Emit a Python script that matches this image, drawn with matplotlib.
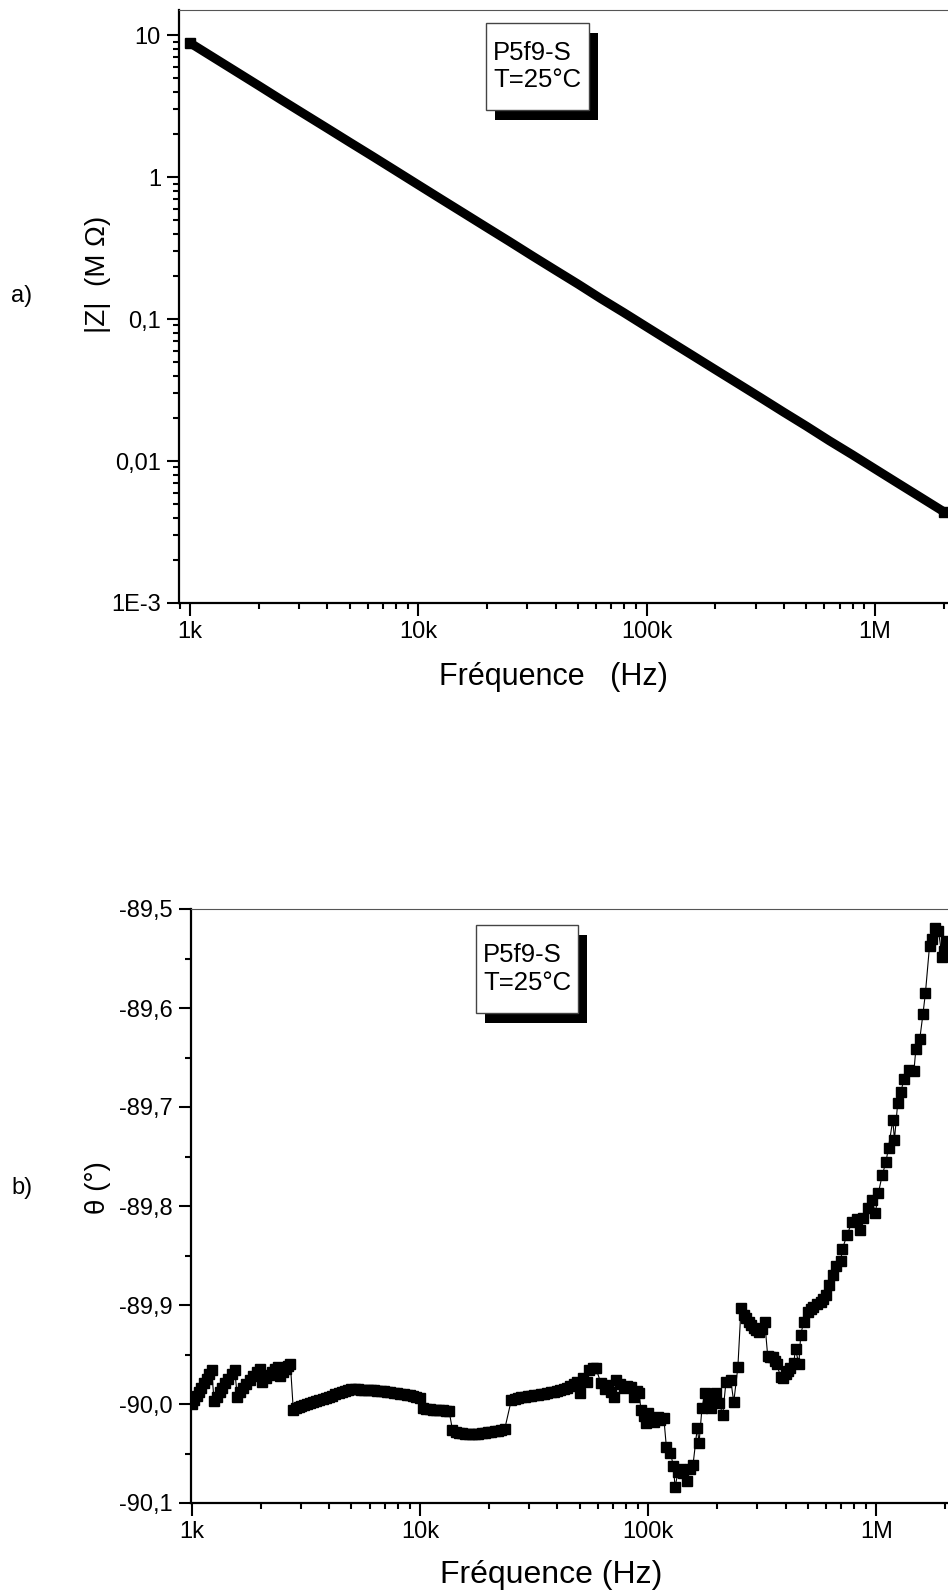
import numpy as np
import matplotlib
matplotlib.use("Agg")
import matplotlib.pyplot as plt
from matplotlib.patches import Rectangle
from matplotlib.ticker import LogLocator, MultipleLocator, NullFormatter

plt.rcParams['font.family'] = ['Liberation Sans', 'DejaVu Sans']

# --- a) module |Z| (MOhm) vs frequence ---
z_freq = [1000, 1250, 1580, 2000, 2500, 3160, 4000, 5000, 6300, 7940,
          10000, 12600, 15800, 20000, 25100, 31600, 39800, 50100, 63100, 79400,
          100000, 126000, 158000, 200000, 251000, 316000, 398000, 501000, 631000, 794000,
          1000000, 1260000, 1580000, 2000000]
z_mod = [8.80, 7.04, 5.57, 4.40, 3.51, 2.78, 2.20, 1.76, 1.40, 1.11,
         0.880, 0.698, 0.557, 0.440, 0.351, 0.278, 0.221, 0.176, 0.139, 0.111,
         0.0880, 0.0698, 0.0557, 0.0440, 0.0351, 0.0279, 0.0221, 0.0176, 0.0139, 0.0111,
         0.00880, 0.00698, 0.00557, 0.00440]

# --- b) phase theta (deg) vs frequence ---
th_freq = [1000, 1025, 1050, 1075, 1100, 1130, 1160, 1190, 1220,
           1250, 1285, 1320, 1360, 1400, 1440, 1490, 1540,
           1580, 1630, 1680, 1730, 1790, 1850, 1920, 1980,
           2030, 2100, 2170, 2240, 2310, 2380,
           2430, 2500, 2570, 2640, 2700,
           2780, 2850, 2930, 3010, 3100, 3200, 3300, 3400, 3500, 3620,
           3740, 3860, 3980, 4110, 4250, 4390, 4530, 4680, 4840, 5000,
           5170, 5340, 5520, 5700, 5890, 6090, 6290, 6500, 6720, 6940,
           7170, 7410, 7660, 7920, 8180, 8460, 8740, 9030, 9330, 9640, 9960,
           10300, 10650, 11000, 11370, 11750, 12140, 12550, 12970, 13400,
           13850, 14300, 14800, 15300, 15800, 16300, 16900, 17400, 18000,
           18600, 19200, 19900, 20500, 21200, 21900, 22700, 23500,
           25100, 26000, 26800, 27700, 28700, 29600, 30600, 31700, 32700,
           33800, 35000, 36100, 37300, 38600, 39900, 41200, 42600, 44100,
           45500, 47100, 48600,
           50200, 52000, 54000, 55000, 57000, 59000, 62000, 64500, 66800,
           69000, 71000, 72000, 75000, 78600, 81000, 84000, 87000, 89000,
           91000, 93000, 96000, 98000, 100000, 103000, 106000, 110000, 113000,
           117000, 120000, 125000, 129000, 131000, 135000, 138000, 142000, 148000,
           152000, 157000, 164000, 167000, 172000, 177000, 182000, 188000, 192000,
           195000, 198000, 205000, 212000, 219000, 230000, 237000, 247000, 255000,
           262000, 269000, 276000, 283000, 290000, 298000, 306000, 315000, 324000,
           334000, 342000, 351000, 358000, 366000, 381000, 390000, 401000, 409000,
           417000, 434000, 442000, 457000, 466000, 480000, 500000, 515000, 530000,
           550000, 570000, 585000, 600000, 618000, 643000, 663000, 697000, 710000,
           745000, 781000, 822000, 848000, 873000, 922000, 954000, 990000, 1020000,
           1060000, 1100000, 1130000, 1180000, 1200000, 1240000, 1280000, 1320000, 1390000,
           1460000, 1490000, 1550000, 1600000, 1640000, 1710000, 1750000, 1800000, 1870000,
           1940000, 1980000, 2020000]
th_deg = [-90.000, -89.996, -89.992, -89.988, -89.984, -89.979, -89.975, -89.970, -89.966,
          -89.997, -89.993, -89.988, -89.984, -89.979, -89.975, -89.970, -89.966,
          -89.993, -89.988, -89.984, -89.980, -89.976, -89.972, -89.968, -89.965,
          -89.978, -89.974, -89.971, -89.968, -89.965, -89.963,
          -89.972, -89.968, -89.965, -89.962, -89.960,
          -90.006, -90.004, -90.003, -90.002, -90.001, -90.000, -89.999, -89.998, -89.997, -89.996,
          -89.995, -89.994, -89.993, -89.992, -89.990, -89.989, -89.988, -89.987, -89.986, -89.985,
          -89.985, -89.985, -89.986, -89.986, -89.986, -89.986, -89.986, -89.987, -89.987, -89.987,
          -89.988, -89.988, -89.989, -89.989, -89.990, -89.990, -89.991, -89.991, -89.992, -89.993, -89.994,
          -90.004, -90.005, -90.005, -90.006, -90.006, -90.006, -90.006, -90.007, -90.007,
          -90.026, -90.028, -90.029, -90.029, -90.030, -90.030, -90.030, -90.030, -90.030,
          -90.029, -90.029, -90.028, -90.028, -90.027, -90.027, -90.026, -90.025,
          -89.996, -89.995, -89.994, -89.993, -89.993, -89.992, -89.992, -89.991, -89.991,
          -89.990, -89.990, -89.989, -89.988, -89.988, -89.987, -89.986, -89.985, -89.984,
          -89.982, -89.980, -89.978,
          -89.989, -89.974, -89.978, -89.966, -89.964, -89.964, -89.979, -89.985, -89.981,
          -89.988, -89.993, -89.976, -89.980, -89.984, -89.982, -89.983, -89.993, -89.987,
          -89.989, -90.006, -90.012, -90.019, -90.009, -90.015, -90.018, -90.013, -90.016,
          -90.014, -90.043, -90.049, -90.063, -90.084, -90.069, -90.066, -90.070, -90.078,
          -90.066, -90.062, -90.024, -90.039, -90.004, -89.989, -89.995, -90.004, -89.992,
          -89.996, -89.989, -89.999, -90.011, -89.978, -89.976, -89.998, -89.963, -89.903,
          -89.910, -89.913, -89.917, -89.920, -89.923, -89.925, -89.927, -89.924, -89.917,
          -89.952, -89.953, -89.953, -89.957, -89.960, -89.973, -89.974, -89.970, -89.967,
          -89.964, -89.959, -89.944, -89.960, -89.930, -89.917, -89.907, -89.904, -89.902,
          -89.899, -89.897, -89.894, -89.890, -89.880, -89.870, -89.861, -89.856, -89.843,
          -89.829, -89.816, -89.813, -89.824, -89.812, -89.802, -89.794, -89.807, -89.787,
          -89.769, -89.756, -89.741, -89.713, -89.733, -89.696, -89.685, -89.672, -89.663,
          -89.664, -89.641, -89.631, -89.606, -89.585, -89.537, -89.530, -89.519, -89.522,
          -89.548, -89.542, -89.532]

x_ticks = [1e3, 1e4, 1e5, 1e6]
x_labels = ["1k", "10k", "100k", "1M"]
za_ticks = [1e-3, 1e-2, 1e-1, 1, 10]
za_labels = ["1E-3", "0,01", "0,1", "1", "10"]
th_ticks = [-90.1, -90.0, -89.9, -89.8, -89.7, -89.6, -89.5]
th_labels = ["-90,1", "-90,0", "-89,9", "-89,8", "-89,7", "-89,6", "-89,5"]
box_text = "P5f9-S\nT=25°C"

W, H = 948, 1591
fig = plt.figure(figsize=(W / 100, H / 100), dpi=100)


def px_axes(left, top, right, bottom):
    return fig.add_axes([left / W, 1 - bottom / H, (right - left) / W, (bottom - top) / H])


def style(ax):
    ax.spines['right'].set_visible(False)
    ax.spines['top'].set_linewidth(0.8)
    ax.spines['top'].set_color('#555555')
    for s in ('left', 'bottom'):
        ax.spines[s].set_linewidth(1.6)
    ax.tick_params(which='major', direction='out', length=9, width=1.5,
                   labelsize=17, pad=4, top=False, right=False)
    ax.tick_params(which='minor', direction='out', length=4.5, width=1.5,
                   top=False, right=False)


def label_box(left, top, right, bottom):
    w, h = (right - left) / W, (bottom - top) / H
    fig.add_artist(Rectangle(((left + 9) / W, 1 - (bottom + 10) / H), w, h,
                             transform=fig.transFigure, fc='black', ec='none'))
    fig.add_artist(Rectangle((left / W, 1 - bottom / H), w, h,
                             transform=fig.transFigure, fc='white', ec='#444444', lw=1))
    fig.text((left + 7) / W, 1 - (top + bottom) / 2 / H, box_text, fontsize=18.5,
             ha='left', va='center', linespacing=1.2)


# a) |Z| : points tres serres -> bande epaisse
ax1 = px_axes(179, 10, 948, 603)
ax1.plot(z_freq, z_mod, color='black', lw=6.5, solid_capstyle='butt',
         marker='s', ms=6.5, markevery=[0, len(z_freq) - 1], mec='black', mfc='black')
ax1.set_xscale('log')
ax1.set_yscale('log')
ax1.set_xlim(895, 2.09e6)
ax1.set_ylim(1e-3, 15.0)
ax1.set_xticks(x_ticks, x_labels)
ax1.set_yticks(za_ticks, za_labels)
ax1.xaxis.set_minor_locator(LogLocator(base=10, subs=np.arange(2, 10)))
ax1.yaxis.set_minor_locator(LogLocator(base=10, subs=np.arange(2, 10)))
ax1.xaxis.set_minor_formatter(NullFormatter())
ax1.yaxis.set_minor_formatter(NullFormatter())
style(ax1)

fig.text(553 / W, 1 - 677 / H, "Fréquence   (Hz)", fontsize=22, ha='center', va='center')
fig.text(98 / W, 1 - 274 / H, "|Z|  (M Ω)", fontsize=20, rotation=90, ha='center', va='center')
fig.text(22 / W, 1 - 296 / H, "a)", fontsize=17, ha='center', va='center')
label_box(486, 23, 589, 110)

# b) theta
ax2 = px_axes(191, 909, 948, 1503)
ax2.plot(th_freq, th_deg, color='black', lw=0.8, marker='s', ms=6.5,
         mec='black', mfc='black')
ax2.set_xscale('log')
ax2.set_xlim(990, 2.06e6)
ax2.set_ylim(-90.1, -89.5)
ax2.set_xticks(x_ticks, x_labels)
ax2.set_yticks(th_ticks, th_labels)
ax2.xaxis.set_minor_locator(LogLocator(base=10, subs=np.arange(2, 10)))
ax2.xaxis.set_minor_formatter(NullFormatter())
ax2.yaxis.set_minor_locator(MultipleLocator(0.05))
style(ax2)

fig.text(551 / W, 1 - 1575 / H, "Fréquence (Hz)", fontsize=23, ha='center', va='center')
fig.text(98 / W, 1 - 1188 / H, "θ (°)", fontsize=20, rotation=90, ha='center', va='center')
fig.text(22 / W, 1 - 1188 / H, "b)", fontsize=17, ha='center', va='center')
label_box(476, 925, 578, 1013)

fig.savefig("out.png", dpi=100)
